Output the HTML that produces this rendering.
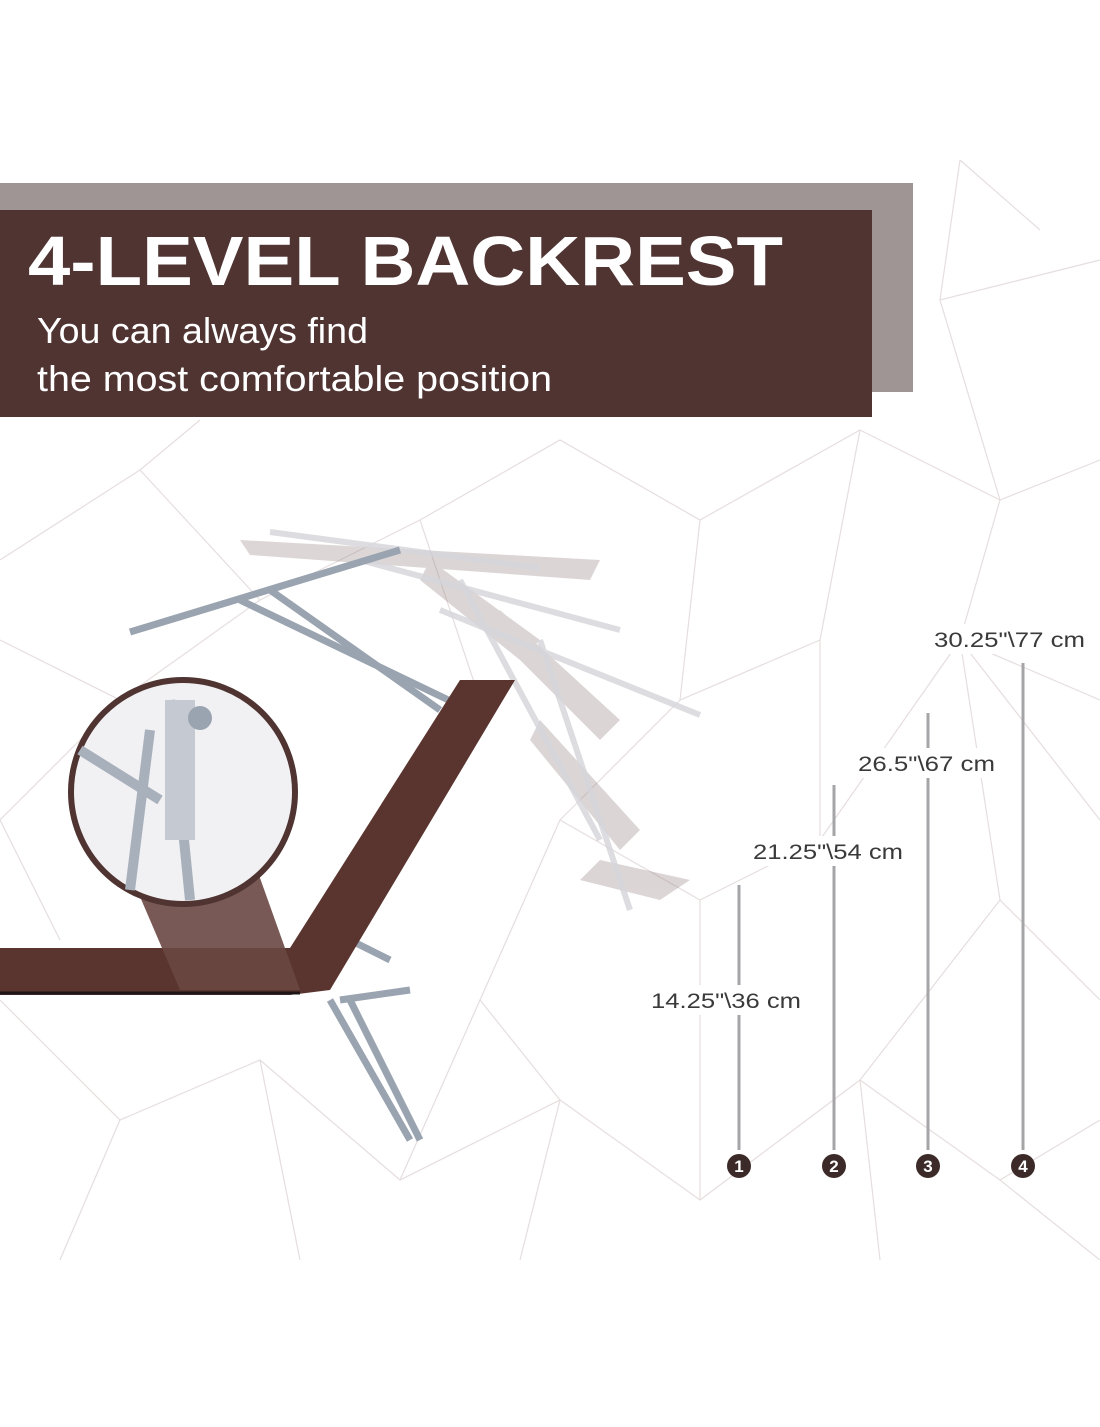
<!DOCTYPE html>
<html><head><meta charset="utf-8"><style>
body{margin:0;width:1100px;height:1422px;background:#fff;overflow:hidden;font-family:"Liberation Sans",sans-serif}
</style></head><body>
<svg width="1100" height="1422" viewBox="0 0 1100 1422" xmlns="http://www.w3.org/2000/svg">
<g stroke="#e6dede" stroke-width="1.2" fill="none">
<path d="M0 560 L140 470 L260 600 L120 700 L0 640"/>
<path d="M140 470 L200 420 M260 600 L420 520 L560 440 L700 520 L860 430 L1000 500 L1100 460"/>
<path d="M420 520 L480 700 M700 520 L680 700 L820 640 L860 430 M1000 500 L960 640 L1100 700"/>
<path d="M680 700 L560 820 L700 900 L820 840 L960 640 M820 640 L820 840 M960 640 L1100 820"/>
<path d="M0 1000 L120 1120 L260 1060 L400 1180 L560 1100 L700 1200 L860 1080 L1000 1180 L1100 1120"/>
<path d="M120 1120 L60 1260 M260 1060 L300 1260 M560 1100 L520 1260 M860 1080 L880 1260 M1000 1180 L1100 1260"/>
<path d="M560 820 L480 1000 L560 1100 M700 900 L700 1200 M960 640 L1000 900 L1100 1000 M1000 900 L860 1080"/>
<path d="M960 160 L940 300 L1100 260 M940 300 L1000 500 M960 160 L1040 230"/>
<path d="M0 820 L120 700 M0 820 L60 940 M400 1180 L480 1000"/>
</g>
<rect x="0" y="183" width="913" height="209" fill="#9e9594"/>
<rect x="0" y="210" width="872" height="207" fill="#4f3432"/>
<text x="28" y="285" fill="#fff" font-size="70" font-weight="bold" textLength="755" lengthAdjust="spacingAndGlyphs">4-LEVEL BACKREST</text>
<text x="37" y="343" fill="#fff" font-size="36" textLength="331" lengthAdjust="spacingAndGlyphs">You can always find</text>
<text x="37" y="391" fill="#fff" font-size="36" textLength="515" lengthAdjust="spacingAndGlyphs">the most comfortable position</text>

<g opacity="0.3" fill="#8c7a78">
<polygon points="240,540 600,560 590,580 250,555"/>
<polygon points="430,560 540,640 520,660 420,580"/>
<polygon points="500,610 620,720 600,740 490,630"/>
<polygon points="540,720 640,830 620,850 530,740"/>
<polygon points="600,860 690,880 660,900 580,880"/>
</g>
<g stroke="#d5d5da" stroke-width="6" fill="none" opacity="0.8">
<line x1="270" y1="532" x2="540" y2="568"/>
<line x1="360" y1="560" x2="620" y2="630"/>
<line x1="440" y1="610" x2="700" y2="715"/>
<line x1="540" y1="640" x2="630" y2="910"/>
<line x1="460" y1="580" x2="600" y2="840"/>
</g>
<g stroke="#9aa3b0" stroke-width="7" fill="none">
<line x1="130" y1="632" x2="400" y2="550"/>
<line x1="240" y1="600" x2="490" y2="720"/>
<line x1="270" y1="590" x2="440" y2="710"/>
<line x1="410" y1="990" x2="340" y2="1000"/>
<line x1="330" y1="1000" x2="410" y2="1140"/>
<line x1="350" y1="1000" x2="420" y2="1140"/>
<line x1="350" y1="940" x2="390" y2="960"/>
</g>
<polygon points="0,948 290,948 460,680 515,680 330,990 290,995 0,995" fill="#5a3530"/>
<line x1="0" y1="993" x2="300" y2="993" stroke="#1e1616" stroke-width="3"/>
<polygon points="120,850 250,850 300,990 180,990" fill="#6a4743" opacity="0.9"/>
<circle cx="183" cy="792" r="112" fill="#f1f1f3" stroke="#4f3432" stroke-width="6"/>
<g stroke="#a8b0bc" stroke-width="10" fill="none">
<line x1="80" y1="750" x2="160" y2="800"/>
<line x1="170" y1="700" x2="190" y2="900"/>
<line x1="150" y1="730" x2="130" y2="890"/>
</g>
<rect x="165" y="700" width="30" height="140" fill="#c4c9d2"/>
<circle cx="200" cy="718" r="12" fill="#9aa3b0"/>
<g stroke="#a5a5a8" stroke-width="3">
<line x1="739" y1="885" x2="739" y2="1150"/>
<line x1="834" y1="785" x2="834" y2="1150"/>
<line x1="928" y1="713" x2="928" y2="1150"/>
<line x1="1023" y1="663" x2="1023" y2="1150"/>
</g>
<g font-size="21" fill="#3a3a3a">
<rect x="650" y="985" width="155" height="30" fill="#fff"/><text x="651" y="1008" textLength="150" lengthAdjust="spacingAndGlyphs">14.25"\36 cm</text>
<rect x="752" y="836" width="155" height="30" fill="#fff"/><text x="753" y="859" textLength="150" lengthAdjust="spacingAndGlyphs">21.25"\54 cm</text>
<rect x="857" y="748" width="140" height="30" fill="#fff"/><text x="858" y="771" textLength="137" lengthAdjust="spacingAndGlyphs">26.5"\67 cm</text>
<rect x="933" y="624" width="155" height="30" fill="#fff"/><text x="934" y="647" textLength="151" lengthAdjust="spacingAndGlyphs">30.25"\77 cm</text>
</g>
<g fill="#3b2a28">
<circle cx="739" cy="1166" r="12"/><circle cx="834" cy="1166" r="12"/><circle cx="928" cy="1166" r="12"/><circle cx="1023" cy="1166" r="12"/>
</g>
<g fill="#fff" font-size="17" font-weight="bold" text-anchor="middle">
<text x="739" y="1172">1</text><text x="834" y="1172">2</text><text x="928" y="1172">3</text><text x="1023" y="1172">4</text>
</g>
</svg>
</body></html>
